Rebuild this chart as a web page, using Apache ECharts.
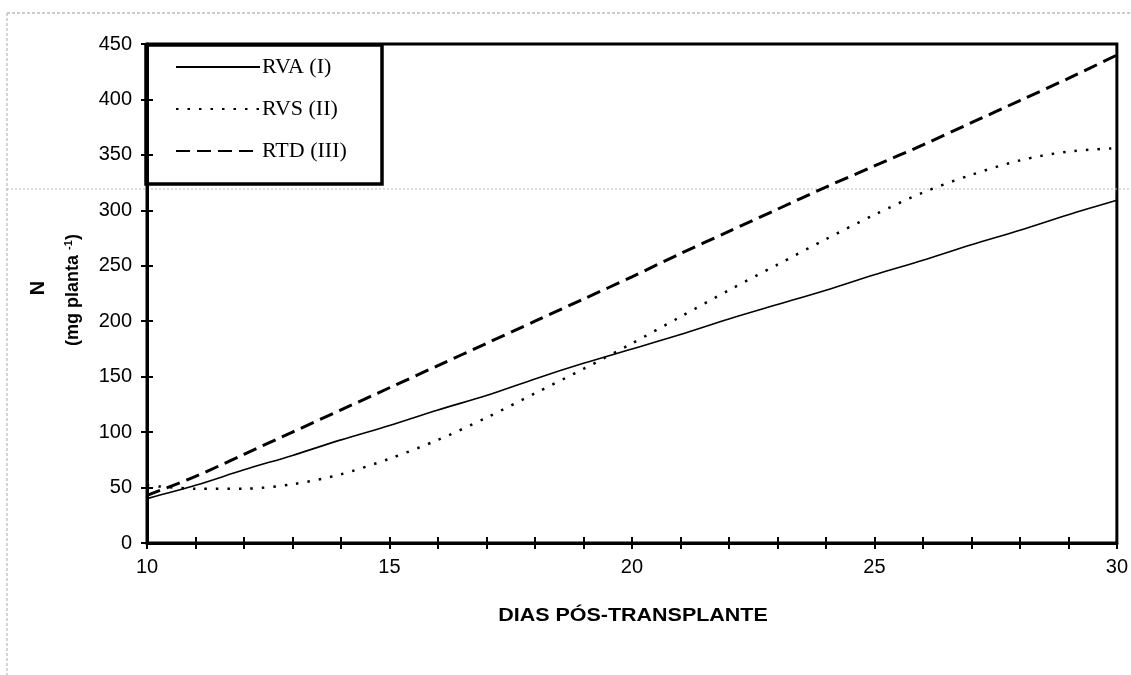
<!DOCTYPE html>
<html><head><meta charset="utf-8">
<script src="https://cdn.jsdelivr.net/npm/echarts@6/dist/echarts.min.js"></script>
<style>html,body{margin:0;padding:0;background:#fff}#c{width:1131px;height:675px}</style>
</head><body><div id="c"></div>
<script>
const days = [10,11,12,13,14,15,16,17,18,19,20,21,22,23,24,25,26,27,28,29,30];
const rva = [40,52,66,79,93,106,120,133,148,162,175,188,202,215,228,242,255,269,282,296,309];
const rvs = [52,49,49,53,62,76,93,113,135,157,180,204,228,251,274,296,316,332,345,353,356];
const rtd = [43,60,80,100,120,140,160,180,200,220,240,261,281,301,321,340,359,379,399,419,440];
const seriesNames = ['RVA (I)','RVS (II)','RTD (III)'];
const xTicks = [10,15,20,25,30];
const yTicks = [0,50,100,150,200,250,300,350,400,450];

const pair = arr => days.map((d,i)=>[d,arr[i]]);
const chart = echarts.init(document.getElementById('c'));
const tickFont = {color:'#000',fontFamily:'Liberation Sans, Arial',fontSize:20};
chart.setOption({
  animation:false,
  backgroundColor:'#fff',
  grid:{left:147,right:14,top:44,bottom:132,show:true,borderColor:'#000',borderWidth:3},
  xAxis:[{
    type:'value',min:10,max:30,interval:1,
    axisLine:{show:true,lineStyle:{color:'#000',width:3}},
    axisTick:{show:true,length:6,lineStyle:{color:'#000',width:2}},
    axisLabel:Object.assign({margin:14,formatter:v=>xTicks.indexOf(v)>=0?String(v):''},tickFont),
    splitLine:{show:false}
  },{
    type:'value',min:10,max:30,interval:1,position:'bottom',
    axisLine:{show:false},
    axisTick:{show:true,inside:true,length:6,lineStyle:{color:'#000',width:2}},
    axisLabel:{show:false},splitLine:{show:false}
  }],
  yAxis:[{
    type:'value',min:0,max:450,interval:50,
    axisLine:{show:true,lineStyle:{color:'#000',width:3}},
    axisTick:{show:true,length:6,lineStyle:{color:'#000',width:2}},
    axisLabel:Object.assign({margin:15,formatter:v=>yTicks.indexOf(v)>=0?String(v):''},tickFont),
    splitLine:{show:false}
  },{
    type:'value',min:0,max:450,interval:50,position:'left',
    axisLine:{show:false},
    axisTick:{show:true,inside:true,length:6,lineStyle:{color:'#000',width:2}},
    axisLabel:{show:false},splitLine:{show:false}
  }],
  legend:{
    orient:'vertical',left:170,top:51,itemWidth:84,itemHeight:22,itemGap:20,
    itemStyle:{opacity:0},
    data:seriesNames.map(n=>({name:n})),
    textStyle:{color:'#000',fontFamily:'Liberation Serif, Times New Roman',fontSize:22,padding:[0,0,0,-3]},
    selectedMode:false
  },
  graphic:[
    {type:'rect',shape:{x:146,y:45,width:236,height:139},style:{fill:'none',stroke:'#000',lineWidth:3.5},z:100},
    {type:'line',shape:{x1:7,y1:189,x2:1131,y2:189},style:{stroke:'#bbb',lineWidth:1,lineDash:[2,2]},z:0},
    {type:'line',shape:{x1:7,y1:13,x2:1131,y2:13},style:{stroke:'#999',lineWidth:1,lineDash:[3,2]},z:0},
    {type:'line',shape:{x1:7,y1:13,x2:7,y2:675},style:{stroke:'#aaa',lineWidth:1,lineDash:[3,2]},z:0},
    {type:'text',x:38,y:288,rotation:Math.PI/2,style:{text:'N',font:'bold 20px Liberation Sans, Arial',fill:'#000',textAlign:'center',textVerticalAlign:'middle'}},
    {type:'text',x:73,y:290,rotation:Math.PI/2,style:{
      text:'{a|(mg planta }{s|-1}{a|)}',textAlign:'center',textVerticalAlign:'middle',
      rich:{a:{font:'bold 18px Liberation Sans, Arial',fill:'#000'},s:{font:'bold 11px Liberation Sans, Arial',fill:'#000',verticalAlign:'top',padding:[0,0,8,0]}}
    }},
    {type:'text',x:633,y:616,scaleX:1.13,style:{text:'DIAS PÓS-TRANSPLANTE',font:'bold 19px Liberation Sans, Arial',fill:'#000',textAlign:'center',textVerticalAlign:'middle'}}
  ],
  series:[
    {name:seriesNames[0],type:'line',data:pair(rva),smooth:0.3,showSymbol:false,symbol:'none',
     lineStyle:{color:'#000',width:1.6,type:'solid'},itemStyle:{color:'#000'}},
    {name:seriesNames[1],type:'line',data:pair(rvs),smooth:0.3,showSymbol:false,symbol:'none',
     lineStyle:{color:'#000',width:2.5,type:[2.5,9]},itemStyle:{color:'#000'}},
    {name:seriesNames[2],type:'line',data:pair(rtd),smooth:0.3,showSymbol:false,symbol:'none',
     lineStyle:{color:'#000',width:3,type:[14,7]},itemStyle:{color:'#000'}}
  ]
});
</script></body></html>
